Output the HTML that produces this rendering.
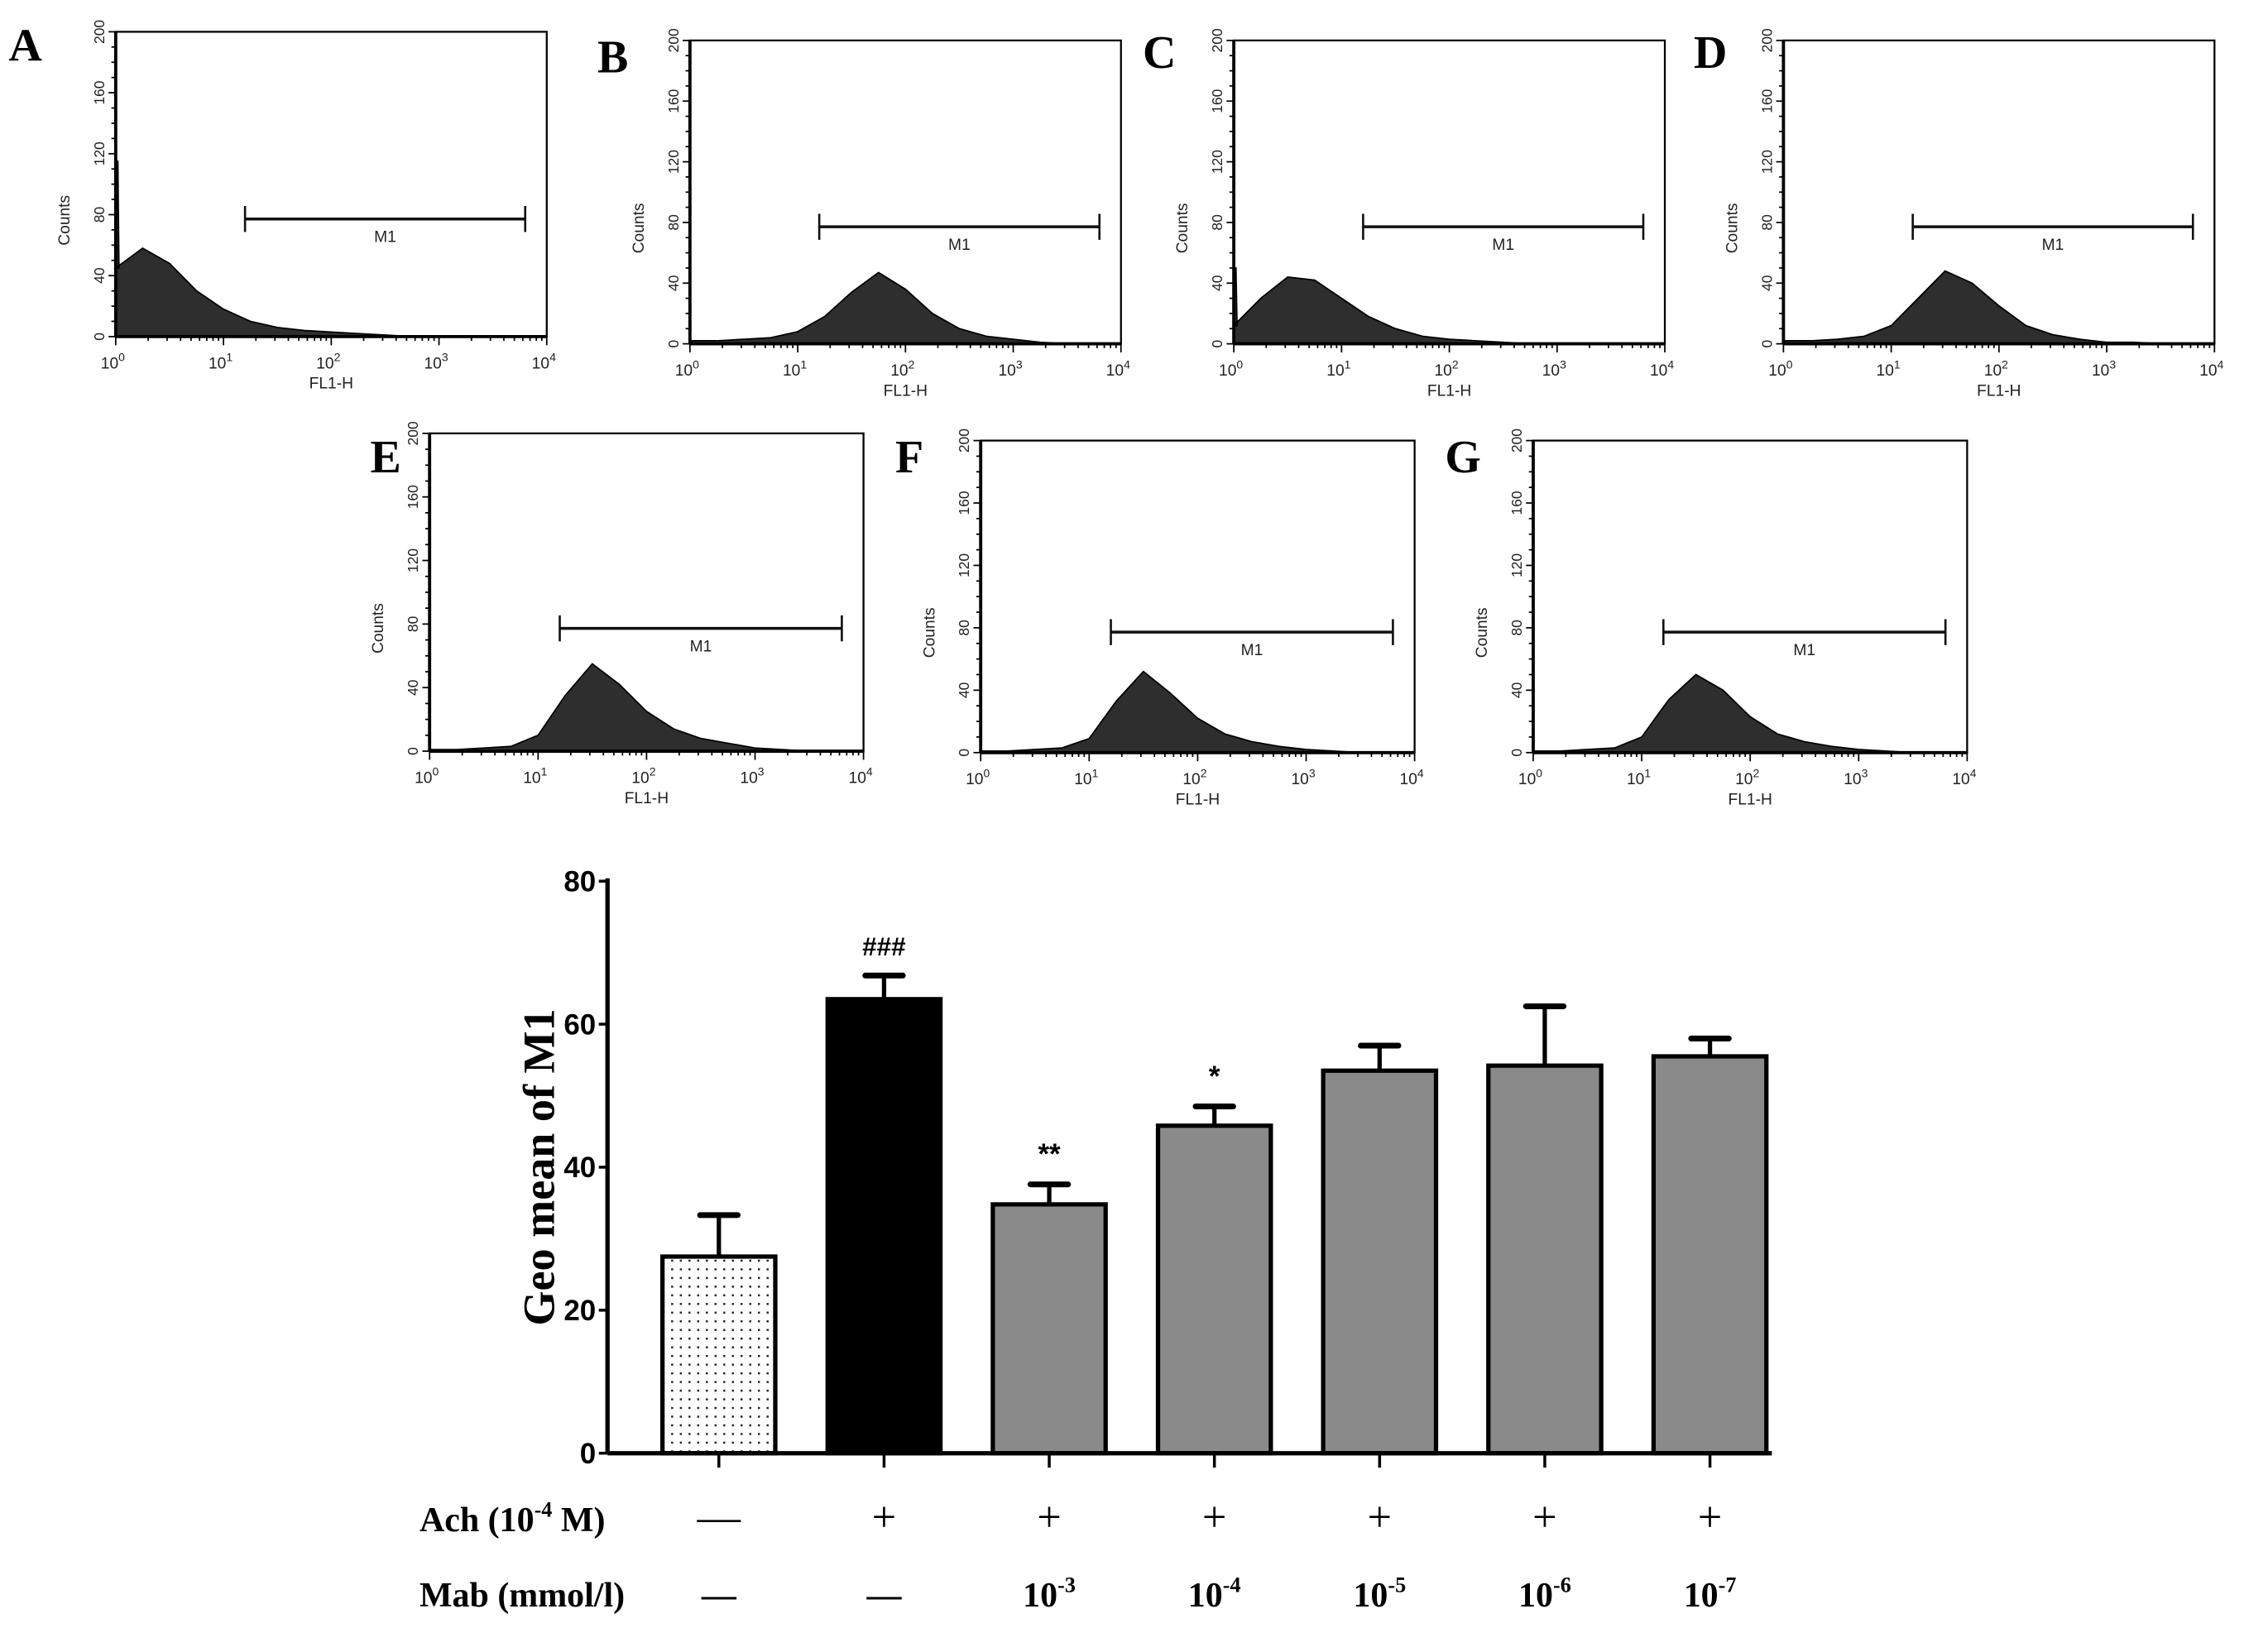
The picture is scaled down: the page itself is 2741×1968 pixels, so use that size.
<!DOCTYPE html>
<html><head><meta charset="utf-8"><style>
html,body{margin:0;padding:0;background:#fff;}
svg{display:block;}
</style></head><body>
<svg id="fig" xmlns="http://www.w3.org/2000/svg" width="2741" height="1968" viewBox="0 0 1568 1127" preserveAspectRatio="none"></svg>
<script>
// ---- histogram data (counts sampled every 0.25 decade from 10^0 to 10^4) ----
const histLabels = ["A","B","C","D","E","F","G"];
const histA = [45,58,48,30,18,10,6,4,3,2,1,0,0,0,0,0,0];
const histB = [2,2,3,4,8,18,34,47,36,20,10,5,3,1,0,0,0];
const histC = [12,30,44,42,30,18,10,5,3,2,1,0,0,0,0,0,0];
const histD = [2,2,3,5,12,30,48,40,25,12,6,3,1,1,0,0,0];
const histE = [1,1,2,3,10,35,55,42,25,14,8,5,2,1,0,0,0];
const histF = [1,1,2,3,9,33,52,38,22,12,7,4,2,1,0,0,0];
const histG = [1,1,2,3,10,34,50,40,23,12,7,4,2,1,0,0,0];
const histSpike = [115,0,50,0,0,0,0];
const countTicks = [0,40,80,120,160,200];
const decadeTicks = [0,1,2,3,4];
const gateStart = 1.2, gateEnd = 3.8, gateLevel = 80;
// ---- bar chart data ----
const barCats = ["ctrl","ach","mab3","mab4","mab5","mab6","mab7"];
const barValues = [27.5,63.5,34.8,45.8,53.5,54.2,55.5];
const barErrTop = [33.3,66.8,37.6,48.5,57.0,62.5,58.0];
const barTicks = [0,20,40,60,80];
const barMarks = ["","###","**","*","","",""];
const achRow = ["—","+","+","+","+","+","+"];
const mabRow = ["—","—","-3","-4","-5","-6","-7"];

const NS="http://www.w3.org/2000/svg";
const svg=document.getElementById('fig');
function mk(tag,attrs,parent){const e=document.createElementNS(NS,tag);for(const k in attrs)e.setAttribute(k,attrs[k]);(parent||svg).appendChild(e);return e;}

const panels=[
 {x0:80,x1:378,y0:22,y1:233,lx:6,ly:42},
 {x0:477,x1:775,y0:28,y1:238,lx:413,ly:50},
 {x0:853,x1:1151,y0:28,y1:238,lx:790,ly:47},
 {x0:1233,x1:1531,y0:28,y1:238,lx:1171,ly:47},
 {x0:297,x1:597,y0:300,y1:520,lx:256,ly:327},
 {x0:678,x1:978,y0:305,y1:521,lx:619,ly:327},
 {x0:1060,x1:1360,y0:305,y1:521,lx:999,ly:327}
];
const histData=[histA,histB,histC,histD,histE,histF,histG];

panels.forEach((p,i)=>{
  const g=mk('g',{});
  
  
  const xs=d=>p.x0+(p.x1-p.x0)*d/4;
  const ys=c=>p.y1-(p.y1-p.y0)*c/200;
  const L=mk('text',{x:p.lx,y:p.ly,'font-family':'Liberation Serif, serif','font-weight':'bold','font-size':32},g);
  L.textContent=histLabels[i];
  
  
  const data=histData[i];
  let pts=[[xs(0),ys(0)]];
  if(histSpike[i]>0){pts.push([xs(0),ys(histSpike[i])]);pts.push([xs(0.02),ys(histSpike[i])]);pts.push([xs(0.03),ys(data[0])]);}
  data.forEach((c,k)=>{pts.push([xs(k*0.25),ys(c)]);});
  pts.push([xs(4),ys(0)]);
  const poly=mk('polygon',{points:pts.map(q=>q.join(',')).join(' '),fill:'#2e2e2e',stroke:'#000','stroke-width':1},g);
  
  
  const fr=mk('rect',{x:p.x0,y:p.y0,width:p.x1-p.x0,height:p.y1-p.y0,fill:'none',stroke:'#000','stroke-width':1.3},g);
  
  
  mk('line',{x1:p.x0,y1:p.y0,x2:p.x0,y2:p.y1,stroke:'#000','stroke-width':2.2},g);
  mk('line',{x1:p.x0,y1:p.y1,x2:p.x1,y2:p.y1,stroke:'#000','stroke-width':2.2},g);
  for(let c=0;c<=200;c+=10){const len=(c%40===0)?5:3;mk('line',{x1:p.x0-len,y1:ys(c),x2:p.x0,y2:ys(c),stroke:'#000','stroke-width':1},g);}
  countTicks.forEach(c=>{
    const t=mk('text',{x:0,y:0,transform:`translate(${p.x0-8},${ys(c)}) rotate(-90)`,'text-anchor':'middle','font-family':'Liberation Sans, sans-serif','font-size':10,fill:'#222'},g);
    t.textContent=c;
    
    
  });
  const ct=mk('text',{x:0,y:0,transform:`translate(${p.x0-32},${ys(100)+25}) rotate(-90)`,'text-anchor':'middle','font-family':'Liberation Sans, sans-serif','font-size':11,fill:'#222'},g);
  ct.textContent='Counts';
  
  
  for(let d=0;d<4;d++){for(let m=1;m<=9;m++){const v=d+Math.log10(m);const len=m===1?6:3;mk('line',{x1:xs(v),y1:p.y1,x2:xs(v),y2:p.y1+len,stroke:'#000','stroke-width':1},g);}}
  mk('line',{x1:xs(4),y1:p.y1,x2:xs(4),y2:p.y1+6,stroke:'#000','stroke-width':1},g);
  decadeTicks.forEach(d=>{
    const t=mk('text',{x:xs(d)-2,y:p.y1+22,'text-anchor':'middle','font-family':'Liberation Sans, sans-serif','font-size':11,fill:'#222'},g);
    t.textContent='10';
    const s=mk('tspan',{dy:-5,'font-size':8},t);s.textContent=d;
    
    
  });
  const xt=mk('text',{x:xs(2),y:p.y1+36,'text-anchor':'middle','font-family':'Liberation Sans, sans-serif','font-size':11,fill:'#222'},g);
  xt.textContent='FL1-H';
  
  
  const gy=ys(gateLevel)+3;
  const gate=mk('g',{},g);
  
  
  mk('line',{x1:xs(gateStart),y1:gy,x2:xs(gateEnd),y2:gy,stroke:'#111','stroke-width':2},gate);
  mk('line',{x1:xs(gateStart),y1:gy-9,x2:xs(gateStart),y2:gy+9,stroke:'#111','stroke-width':1.5},gate);
  mk('line',{x1:xs(gateEnd),y1:gy-9,x2:xs(gateEnd),y2:gy+9,stroke:'#111','stroke-width':1.5},gate);
  const m1=mk('text',{x:(xs(gateStart)+xs(gateEnd))/2,y:gy+16,'text-anchor':'middle','font-family':'Liberation Sans, sans-serif','font-size':11,fill:'#222'},gate);
  m1.textContent='M1';
});

// ---- bar chart ----
const bc=mk('g',{});


const AX=420, Y0=1006, Y80=610;
const yb=v=>Y0-(Y0-Y80)*v/80;
const xb=i=>497+i*114.2;
const BW=78;
const defs=mk('defs',{});
const pat=mk('pattern',{id:'dots',width:6,height:6,patternUnits:'userSpaceOnUse'},defs);
mk('rect',{width:6,height:6,fill:'#fff'},pat);
mk('rect',{x:2,y:2,width:1.4,height:1.4,fill:'#222'},pat);
barCats.forEach((c,i)=>{
  const x=xb(i), top=yb(barValues[i]);
  mk('line',{x1:x,y1:top,x2:x,y2:yb(barErrTop[i]),stroke:'#000','stroke-width':3},bc);
  mk('line',{x1:x-13,y1:yb(barErrTop[i]),x2:x+13,y2:yb(barErrTop[i]),stroke:'#000','stroke-width':4,'stroke-linecap':'round'},bc);
  const fill=i===0?'url(#dots)':(i===1?'#000':'#8a8a8a');
  const r=mk('rect',{x:x-BW/2,y:top,width:BW,height:Y0-top,fill:fill,stroke:'#000','stroke-width':3},bc);
  
  
  mk('line',{x1:x,y1:Y0,x2:x,y2:Y0+10,stroke:'#000','stroke-width':2},bc);
  if(barMarks[i]){
    const t=mk('text',{x:x,y:yb(barErrTop[i])-14,'text-anchor':'middle','font-family':'Liberation Sans, sans-serif','font-weight':'bold','font-size':barMarks[i]==='###'?18:20},bc);
    t.textContent=barMarks[i];
    
    
  }
  const a=mk('text',{x:x,y:1060,'text-anchor':'middle','font-family':'Liberation Serif, serif','font-size':30},bc);
  a.textContent=achRow[i];
  
  
  const m=mk('text',{x:x,y:1112,'text-anchor':'middle','font-family':'Liberation Serif, serif','font-weight':'bold','font-size':24},bc);
  if(mabRow[i]==='—'){m.textContent='—';}else{m.textContent='10';const s=mk('tspan',{dy:-10,'font-size':15},m);s.textContent=mabRow[i];}
  
  
});
mk('line',{x1:AX,y1:Y80-2,x2:AX,y2:Y0,stroke:'#000','stroke-width':3},bc);
mk('line',{x1:AX,y1:Y0,x2:1225,y2:Y0,stroke:'#000','stroke-width':3},bc);
barTicks.forEach(v=>{
  mk('line',{x1:AX-6,y1:yb(v),x2:AX,y2:yb(v),stroke:'#000','stroke-width':2},bc);
  const t=mk('text',{x:AX-8,y:yb(v)+7,'text-anchor':'end','font-family':'Liberation Sans Narrow, Liberation Sans, sans-serif','font-weight':'bold','font-size':20},bc);
  t.textContent=v;
  
  
});
const yt=mk('text',{x:0,y:0,transform:'translate(383,808) rotate(-90)','text-anchor':'middle','font-family':'Liberation Serif, serif','font-weight':'bold','font-size':31},bc);
yt.textContent='Geo mean of M1';


const ach=mk('text',{x:290,y:1060,'font-family':'Liberation Serif, serif','font-weight':'bold','font-size':24},bc);
ach.textContent='Ach (10';
const as=mk('tspan',{dy:-10,'font-size':15},ach);as.textContent='-4';
const as2=mk('tspan',{dy:10},ach);as2.textContent=' M)';


const mab=mk('text',{x:290,y:1112,'font-family':'Liberation Serif, serif','font-weight':'bold','font-size':24},bc);
mab.textContent='Mab (mmol/l)';


</script>
</body></html>
